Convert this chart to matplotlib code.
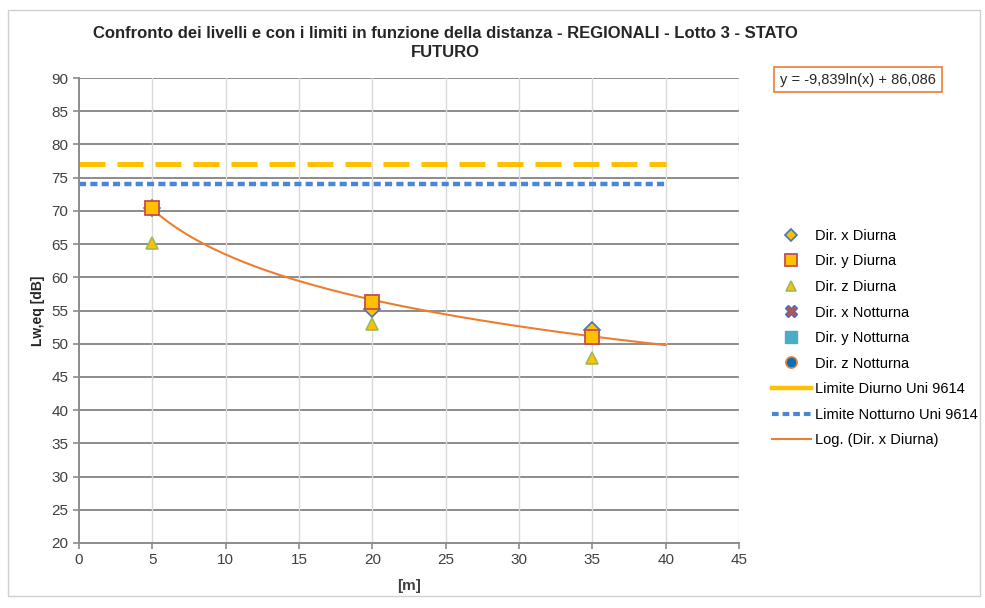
import numpy as np
import matplotlib.pyplot as plt
from matplotlib.lines import Line2D
from matplotlib.patches import Rectangle

# measured points
dist = [5, 20, 35]
dir_x_diurna = [70.4, 55.2, 52.1]
dir_y_diurna = [70.5, 56.3, 51.0]
dir_z_diurna = [65.2, 52.9, 47.8]

lim_x = [0, 40]
lim_diurno = [77, 77]
lim_notturno = [74, 74]

# log trend shown on the chart: y = a*ln(x) + b
trend_a = -9.839
trend_b = 86.086
trend_range = [5, 40]

plt.rcParams['font.family'] = ['Liberation Sans', 'DejaVu Sans']

fig = plt.figure(figsize=(9.85, 6.08), dpi=100)
ax = fig.add_axes([79/985, 1-543/608, 660/985, 465/608])

grid_dark = '#8c8c8c'
ax.set_xlim(0, 45)
ax.set_ylim(20, 90)
ax.set_xticks(np.arange(0, 46, 5))
ax.set_yticks(np.arange(20, 91, 5))
for y in np.arange(25, 91, 5):
    ax.axhline(y, color=grid_dark, lw=1.4, zorder=0)
for x in np.arange(5, 46, 5):
    ax.axvline(x, color='#d9d9d9', lw=1.0, zorder=0)
for s in ['top', 'right']:
    ax.spines[s].set_visible(False)
for s in ['left', 'bottom']:
    ax.spines[s].set_color(grid_dark)
    ax.spines[s].set_linewidth(1.4)
ax.tick_params(colors=grid_dark, labelcolor='#404040', labelsize=11, length=4, width=1.2)

ax.plot(lim_x, lim_diurno, color='#ffc000', lw=3.6, dashes=(5.2, 2.4), zorder=2)
ax.plot(lim_x, lim_notturno, color='#4a86d8', lw=3.2, dashes=(1.6, 0.95), zorder=2)

tx = np.linspace(trend_range[0], trend_range[1], 200)
ax.plot(tx, trend_a*np.log(tx) + trend_b, color='#ed7d31', lw=1.5, zorder=3)

ax.plot(dist, dir_x_diurna, 'D', ms=8, mfc='#ffc000', mec='#4472c4', mew=1.2, ls='none', zorder=4)
ax.plot(dist, dir_y_diurna, 's', ms=10, mfc='#ffc000', mec='#c0504d', mew=1.3, ls='none', zorder=5)
ax.plot(dist, dir_z_diurna, '^', ms=9, mfc='#ffc000', mec='#9bbb59', mew=1.2, ls='none', zorder=6)

ax.set_xlabel('[m]', fontweight='bold', fontsize=11, color='#404040', labelpad=8)
ax.set_ylabel('Lw,eq [dB]', fontweight='bold', fontsize=10, color='#262626', labelpad=5)

fig.text(0.452, 0.929, 'Confronto dei livelli e con i limiti in funzione della distanza - REGIONALI - Lotto 3 - STATO\nFUTURO',
         ha='center', va='center', fontsize=12, fontweight='bold', linespacing=1.3, color='#262626')

# legend
handles = [
    Line2D([], [], marker='D', ms=6, mfc='#ffc000', mec='#4472c4', mew=1.2, ls='none'),
    Line2D([], [], marker='s', ms=8, mfc='#ffc000', mec='#c0504d', mew=1.3, ls='none'),
    Line2D([], [], marker='^', ms=7, mfc='#ffc000', mec='#9bbb59', mew=1.2, ls='none'),
    Line2D([], [], marker='X', ms=8, mfc='#c0504d', mec='#4f6fb5', mew=1.0, ls='none'),
    Line2D([], [], marker='s', ms=8, mfc='#4bacc6', mec='#4bacc6', ls='none'),
    Line2D([], [], marker='o', ms=8, mfc='#0070c0', mec='#ed7d31', mew=1.2, ls='none'),
    Line2D([], [], color='#ffc000', lw=3.2),
    Line2D([], [], color='#4a86d8', lw=3.0, dashes=(1.6, 0.95)),
    Line2D([], [], color='#ed7d31', lw=1.5),
]
labels = ['Dir. x Diurna', 'Dir. y Diurna', 'Dir. z Diurna', 'Dir. x Notturna',
          'Dir. y Notturna', 'Dir. z Notturna', 'Limite Diurno Uni 9614',
          'Limite Notturno Uni 9614', 'Log. (Dir. x Diurna)']
fig.legend(handles, labels, loc='upper left', bbox_to_anchor=(0.778, 0.633),
           frameon=False, fontsize=10.5, handlelength=2.65, labelspacing=0.79,
           handletextpad=0.3, borderaxespad=0)

fig.text(0.792, 0.869, 'y = -9,839ln(x) + 86,086', ha='left', va='center', fontsize=10.5,
         color='#262626', bbox=dict(boxstyle='square,pad=0.4', fc='white', ec='#ed7d31', lw=1.2))

fig.patches.append(Rectangle((8/985, 1-596/608), 972/985, 586/608, transform=fig.transFigure,
                             fill=False, ec='#d0d0d0', lw=1.0))

fig.savefig('out.png', dpi=100)
